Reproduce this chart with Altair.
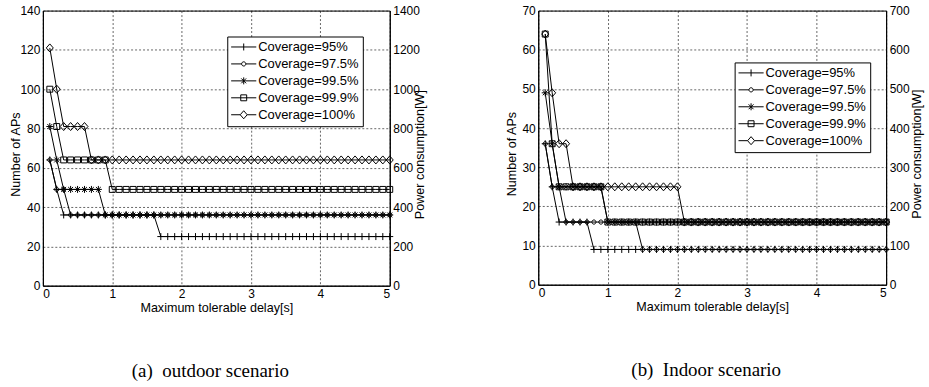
import altair as alt
import pandas as pd

# Maximum tolerable delay [s] sampled every 0.1 s
delay_s = [0.1, 0.2, 0.3, 0.4, 0.5, 0.6, 0.7, 0.8, 0.9, 1.0,
           1.1, 1.2, 1.3, 1.4, 1.5, 1.6, 1.7, 1.8, 1.9, 2.0,
           2.1, 2.2, 2.3, 2.4, 2.5, 2.6, 2.7, 2.8, 2.9, 3.0,
           3.1, 3.2, 3.3, 3.4, 3.5, 3.6, 3.7, 3.8, 3.9, 4.0,
           4.1, 4.2, 4.3, 4.4, 4.5, 4.6, 4.7, 4.8, 4.9, 5.0]

series = ["Coverage=95%", "Coverage=97.5%", "Coverage=99.5%",
          "Coverage=99.9%", "Coverage=100%"]

# Outdoor scenario: number of APs
outdoor_95 = [64, 49, 36, 36, 36, 36, 36, 36, 36, 36,
              36, 36, 36, 36, 36, 36, 25, 25, 25, 25,
              25, 25, 25, 25, 25, 25, 25, 25, 25, 25,
              25, 25, 25, 25, 25, 25, 25, 25, 25, 25,
              25, 25, 25, 25, 25, 25, 25, 25, 25, 25]
outdoor_975 = [64, 49, 49, 36, 36, 36, 36, 36, 36, 36,
               36, 36, 36, 36, 36, 36, 36, 36, 36, 36,
               36, 36, 36, 36, 36, 36, 36, 36, 36, 36,
               36, 36, 36, 36, 36, 36, 36, 36, 36, 36,
               36, 36, 36, 36, 36, 36, 36, 36, 36, 36]
outdoor_995 = [81, 64, 49, 49, 49, 49, 49, 49, 36, 36,
               36, 36, 36, 36, 36, 36, 36, 36, 36, 36,
               36, 36, 36, 36, 36, 36, 36, 36, 36, 36,
               36, 36, 36, 36, 36, 36, 36, 36, 36, 36,
               36, 36, 36, 36, 36, 36, 36, 36, 36, 36]
outdoor_999 = [100, 81, 64, 64, 64, 64, 64, 64, 64, 49,
               49, 49, 49, 49, 49, 49, 49, 49, 49, 49,
               49, 49, 49, 49, 49, 49, 49, 49, 49, 49,
               49, 49, 49, 49, 49, 49, 49, 49, 49, 49,
               49, 49, 49, 49, 49, 49, 49, 49, 49, 49]
outdoor_100 = [121, 100, 81, 81, 81, 81, 64, 64, 64, 64,
               64, 64, 64, 64, 64, 64, 64, 64, 64, 64,
               64, 64, 64, 64, 64, 64, 64, 64, 64, 64,
               64, 64, 64, 64, 64, 64, 64, 64, 64, 64,
               64, 64, 64, 64, 64, 64, 64, 64, 64, 64]

# Indoor scenario: number of APs
indoor_95 = [36, 25, 16, 16, 16, 16, 16, 9, 9, 9,
             9, 9, 9, 9, 9, 9, 9, 9, 9, 9,
             9, 9, 9, 9, 9, 9, 9, 9, 9, 9,
             9, 9, 9, 9, 9, 9, 9, 9, 9, 9,
             9, 9, 9, 9, 9, 9, 9, 9, 9, 9]
indoor_975 = [36, 25, 25, 16, 16, 16, 16, 16, 16, 16,
              16, 16, 16, 16, 9, 9, 9, 9, 9, 9,
              9, 9, 9, 9, 9, 9, 9, 9, 9, 9,
              9, 9, 9, 9, 9, 9, 9, 9, 9, 9,
              9, 9, 9, 9, 9, 9, 9, 9, 9, 9]
indoor_995 = [49, 36, 25, 25, 25, 25, 25, 25, 25, 16,
              16, 16, 16, 16, 16, 16, 16, 16, 16, 16,
              16, 16, 16, 16, 16, 16, 16, 16, 16, 16,
              16, 16, 16, 16, 16, 16, 16, 16, 16, 16,
              16, 16, 16, 16, 16, 16, 16, 16, 16, 16]
indoor_999 = [64, 36, 25, 25, 25, 25, 25, 25, 25, 16,
              16, 16, 16, 16, 16, 16, 16, 16, 16, 16,
              16, 16, 16, 16, 16, 16, 16, 16, 16, 16,
              16, 16, 16, 16, 16, 16, 16, 16, 16, 16,
              16, 16, 16, 16, 16, 16, 16, 16, 16, 16]
indoor_100 = [64, 49, 36, 36, 25, 25, 25, 25, 25, 25,
              25, 25, 25, 25, 25, 25, 25, 25, 25, 25,
              16, 16, 16, 16, 16, 16, 16, 16, 16, 16,
              16, 16, 16, 16, 16, 16, 16, 16, 16, 16,
              16, 16, 16, 16, 16, 16, 16, 16, 16, 16]

# Open marker glyphs (unit-square SVG paths)
marker_paths = [
    "M-1,0H1M0,-1V1",
    "M0.6,0A0.6,0.6,0,1,1,-0.6,0A0.6,0.6,0,1,1,0.6,0Z",
    "M-1,0H1M0,-1V1M-0.7,-0.7L0.7,0.7M-0.7,0.7L0.7,-0.7",
    "M-0.85,-0.85H0.85V0.85H-0.85Z",
    "M-1,0L0,-1.15L1,0L0,1.15Z",
]
# Legend keys: the same glyphs on a short line segment
key_paths = [
    "M-3.6,0H3.6M0,-1V1",
    "M-3.6,0H-0.6M0.6,0H3.6M0.6,0A0.6,0.6,0,1,1,-0.6,0A0.6,0.6,0,1,1,0.6,0Z",
    "M-3.6,0H3.6M0,-1V1M-0.7,-0.7L0.7,0.7M-0.7,0.7L0.7,-0.7",
    "M-3.6,0H3.6M-0.85,-0.85H0.85V0.85H-0.85Z",
    "M-3.6,0H-1M1,0H3.6M-1,0L0,-1.15L1,0L0,1.15Z",
]

FONT = "Liberation Sans"


def long_table(columns):
    rows = []
    for name, values in zip(series, columns):
        for d, v in zip(delay_s, values):
            rows.append({"series": name, "delay": d, "aps": v})
    return pd.DataFrame(rows)


def panel(df, ymax, ystep, caption, legend_x, legend_y, width, height):
    base = alt.Chart(df)
    x = alt.X("delay:Q", scale=alt.Scale(domain=[0, 5], nice=False),
              axis=alt.Axis(values=[0, 1, 2, 3, 4, 5], format="d",
                            title="Maximum tolerable delay[s]", grid=True,
                            titlePadding=2))
    y = alt.Y("aps:Q", scale=alt.Scale(domain=[0, ymax], nice=False),
              axis=alt.Axis(values=list(range(0, ymax + 1, ystep)), format="d",
                            title="Number of APs", grid=True,
                            titleAngle=270, titleBaseline="middle",
                            titleX=-27, titleY=height / 2 + 6))
    lines = base.mark_line(color="black", strokeWidth=1).encode(
        x=x, y=y, detail="series:N")
    points = base.mark_point(filled=False, color="black", strokeWidth=1,
                             size=49, opacity=1).encode(
        x=x, y=y,
        shape=alt.Shape("series:N", scale=alt.Scale(domain=series, range=marker_paths),
                        legend=None))
    key = base.transform_filter("false").mark_point(
        filled=False, color="black", strokeWidth=1, size=49, opacity=1).encode(
        x=x, y=y,
        shape=alt.Shape("series:N", scale=alt.Scale(domain=series, range=key_paths),
                        legend=alt.Legend(title=None, orient="none",
                                          legendX=legend_x, legendY=legend_y)))
    inner = alt.layer(lines, points, key).resolve_scale(shape="independent")
    power = base.transform_filter("false").transform_calculate(
        power="datum.aps * 10").mark_point(opacity=0).encode(
        x=x,
        y=alt.Y("power:Q", scale=alt.Scale(domain=[0, ymax * 10], nice=False),
                axis=alt.Axis(orient="right", format="d",
                              values=list(range(0, ymax * 10 + 1, ystep * 10)),
                              title="Power consumption[W]", grid=False,
                              titleAngle=270, titleBaseline="middle",
                              titleX=30, titleY=height / 2 + 6)))
    return alt.layer(inner, power).resolve_scale(y="independent").properties(
        width=width, height=height,
        title=alt.TitleParams(caption, orient="bottom", font="Liberation Serif",
                              fontSize=19, fontWeight="normal", color="black",
                              offset=48, anchor="middle", dx=-6))


outdoor = panel(long_table([outdoor_95, outdoor_975, outdoor_995, outdoor_999, outdoor_100]),
                140, 20, "(a) \u00a0outdoor scenario", 185, 26, 348, 276)
indoor = panel(long_table([indoor_95, indoor_975, indoor_995, indoor_999, indoor_100]),
               70, 10, "(b) \u00a0Indoor scenario", 197, 52, 349, 275)

chart = alt.hconcat(outdoor, indoor, spacing=77).properties(
    padding={"left": 9, "top": 3, "right": 5, "bottom": 5},
    background="white",
).configure_view(stroke="black", strokeWidth=1).configure_axis(
    labelFont=FONT, titleFont=FONT, labelFontSize=12, titleFontSize=12.6,
    titleFontWeight="normal", labelColor="black", titleColor="black",
    domainColor="black", domainWidth=1, gridColor="black", gridDash=[2, 2],
    gridWidth=0.6, gridOpacity=1, ticks=False, labelPadding=3,
).configure_legend(
    labelFont=FONT, labelFontSize=13, labelColor="black",
    strokeColor="black", fillColor="white", padding=4, rowPadding=3,
    symbolSize=49, symbolStrokeWidth=1, symbolStrokeColor="black",
    symbolFillColor="transparent", symbolOffset=6, labelOffset=8,
)

chart.save("out.html", embed_options={"renderer": "svg", "actions": False})
